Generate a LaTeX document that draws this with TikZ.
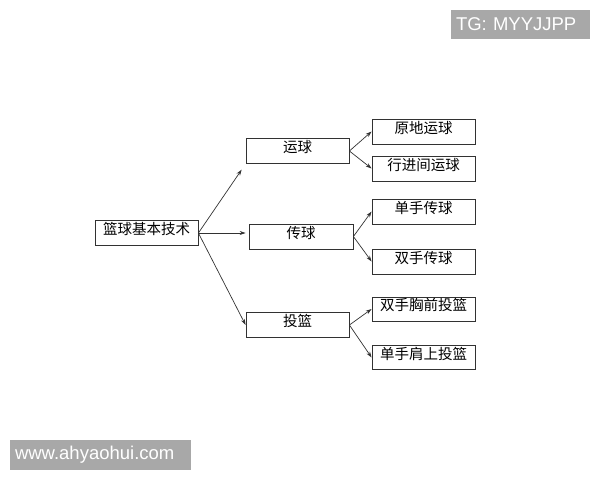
\documentclass[tikz,border=0pt]{standalone}
\usepackage{fontspec}
\setmainfont{Liberation Sans}
\newfontfamily\cjk{Noto Sans CJK SC}
\definecolor{wmgray}{RGB}{168,168,168}
\definecolor{linegray}{RGB}{50,50,50}
\usetikzlibrary{calc}
\usetikzlibrary{positioning}
\usetikzlibrary{arrows.meta}
\tikzset{
  skillbox/.style={draw=linegray, line width=0.8pt, minimum width=103pt, minimum height=25pt,
    inner sep=0pt, text height=9pt, text depth=6pt, font=\cjk\fontsize{14.5pt}{16pt}\selectfont},
  wmbox/.style={fill=wmgray, text=white, inner xsep=5pt, inner ysep=0pt, align=left,
    font=\fontsize{18.5pt}{20pt}\selectfont},
  link/.style={-{Stealth[length=6pt, width=4pt]}, line width=0.7pt, draw=linegray}
}

\begin{document}
\begin{tikzpicture}[x=1pt, y=-1pt]
  \useasboundingbox (0,0) rectangle (600,480);

  \node [skillbox] (root) at (146.5,233) {篮球基本技术};

  \node [skillbox] (dribble) at (297.5,151) {运球};
  \node [skillbox, minimum width=104pt] (pass) at (301,236.5) {传球};
  \node [skillbox] (shoot) at (297.5,325) {投篮};

  \node [skillbox] (stand) at (423.5,131.5) {原地运球};
  \node [skillbox] (move) at (423.5,168.5) {行进间运球};
  \node [skillbox] (single) at (423.5,211.5) {单手传球};
  \node [skillbox] (double) at (423.5,261.5) {双手传球};
  \node [skillbox, minimum height=24pt] (chest) at (423.5,309) {双手胸前投篮};
  \node [skillbox, minimum height=24pt] (shoulder) at (423.5,357.5) {单手肩上投篮};

  \draw [link, shorten >=7pt] (root.east) -- (dribble.south west);
  \draw [link, shorten >=3pt] (root.east) -- (root.east -| pass.west);
  \draw [link] (root.east) -- (shoot.west);

  \foreach \p/\c in {dribble/stand, dribble/move, pass/single, pass/double, shoot/chest, shoot/shoulder} {
    \draw [link] (\p.east) -- (\c.west);
  }

  \node [wmbox, text width=129pt, minimum height=29pt] (tg) at (520.5,24.5) {TG: MYYJJPP};
  \node [wmbox, text width=171pt, minimum height=30pt] (site) at (100.5,455) {www.ahyaohui.com};
\end{tikzpicture}
\end{document}
